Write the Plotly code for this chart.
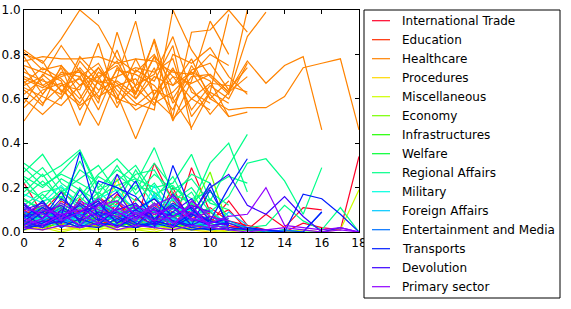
import plotly.graph_objects as go

categories = ["International Trade", "Education", "Healthcare", "Procedures",
              "Miscellaneous", "Economy", "Infrastructures", "Welfare",
              "Regional Affairs", "Military", "Foreign Affairs",
              "Entertainment and Media", "Transports", "Devolution", "Primary sector"]

colors = ["#ff0029", "#ff2d00", "#ff8300", "#ffd900", "#cfff00", "#79ff00",
          "#22ff00", "#00ff33", "#00ff89", "#00ffdf", "#00c9ff", "#0072ff",
          "#001cff", "#3b00ff", "#9100ff"]

x_ticks = [0, 2, 4, 6, 8, 10, 12, 14, 16, 18]
y_ticks = [0.0, 0.2, 0.4, 0.6, 0.8, 1.0]

international_trade = [
    [0.22, 0.08, 0.12, 0.05, 0.10, 0.06, 0.04, 0.31, 0.14, 0.06, 0.02, 0.05, 0.03],
    [0.05, 0.10, 0.03, 0.08, 0.12, 0.04, 0.09, 0.06, 0.02, 0.29, 0.09, 0.03, 0.01, 0.08, 0.02, 0.11, 0.10],
    [0.10, 0.04, 0.14, 0.09, 0.02, 0.13, 0.07, 0.03, 0.18, 0.05, 0.04, 0.14, 0.03],
    [0.03, 0.07, 0.05, 0.13, 0.06, 0.02, 0.15, 0.10, 0.07, 0.12, 0.01],
    [0.08, 0.12, 0.09, 0.04, 0.16, 0.09, 0.11, 0.05, 0.20, 0.03, 0.06, 0.02, 0.03, 0.01, 0.00, 0.04, 0.02, 0.01, 0.34],
    [0.13, 0.02, 0.06, 0.11, 0.08, 0.14, 0.03, 0.08, 0.04, 0.10, 0.03],
    [0.01, 0.05, 0.11, 0.02, 0.05, 0.03, 0.06, 0.13, 0.09, 0.02, 0.07, 0.04],
    [0.15, 0.09, 0.18, 0.12, 0.07, 0.17, 0.10, 0.15, 0.06, 0.13, 0.08],
    [0.07, 0.14, 0.04, 0.10, 0.14, 0.06, 0.12, 0.04, 0.15, 0.07, 0.11, 0.05],
    [0.04, 0.06, 0.10, 0.07, 0.11, 0.08, 0.05, 0.09, 0.12, 0.04, 0.02],
    [0.11, 0.07, 0.02, 0.15, 0.03, 0.11, 0.08, 0.12, 0.05, 0.08, 0.06, 0.10, 0.01],
]
education = [
    [0.06, 0.04, 0.08, 0.03, 0.07, 0.05, 0.02, 0.06, 0.04, 0.03, 0.01],
    [0.02, 0.09, 0.03, 0.06, 0.02, 0.08, 0.04, 0.02, 0.07, 0.01],
    [0.04, 0.01, 0.05, 0.10, 0.04, 0.02, 0.06, 0.09, 0.03, 0.05, 0.02, 0.01],
    [0.08, 0.11, 0.06, 0.12, 0.09, 0.07, 0.10, 0.04, 0.08, 0.06, 0.09],
]
healthcare = [
    [0.82, 0.76, 0.87, 1.00, 0.93, 0.78, 0.72, 0.80, 0.66, 0.72, 0.60, 0.55, 0.56, 0.56, 0.61, 0.74, 0.76, 0.78, 0.46],
    [0.70, 0.66, 0.62, 0.79, 0.70, 0.75, 0.63, 0.79, 0.58, 0.70, 0.71, 0.63, 0.77, 0.67, 0.75, 0.79, 0.46],
    [0.50, 0.62, 0.74, 0.55, 0.68, 0.66, 0.58, 0.55, 1.00, 0.82, 0.70, 0.62, 0.88, 0.99],
    [0.81, 0.73, 0.75, 0.62, 0.48, 0.70, 0.95, 0.60, 0.52, 0.90, 0.91, 1.00, 0.90],
    [0.60, 0.53, 0.61, 0.70, 0.76, 0.62, 0.42, 0.62, 0.73, 0.65, 0.53, 0.63, 1.00],
    [0.77, 0.79, 0.78, 0.78, 0.79, 0.76, 0.78, 0.77, 0.72, 0.71, 0.80, 0.75],
    [0.75, 0.72, 0.68, 0.48, 0.69, 0.77, 0.62, 0.87, 0.60, 0.47, 0.63, 0.58],
    [0.68, 0.58, 0.66, 0.69, 0.60, 0.73, 0.71, 0.66, 0.55, 0.75, 0.62, 0.52, 0.54],
    [0.66, 0.70, 0.84, 0.72, 0.58, 0.90, 0.65, 0.57, 0.80, 0.76, 0.83, 0.70, 0.62],
    [0.72, 0.68, 0.66, 0.64, 0.85, 0.58, 0.66, 0.86, 0.51, 0.60, 0.55],
    [0.79, 0.66, 0.71, 0.72, 0.67, 0.70, 0.74, 0.72, 0.78, 0.52, 0.63, 0.98],
    [0.65, 0.61, 0.57, 0.66, 0.74, 0.64, 0.55, 0.60, 0.70, 0.60, 0.67, 0.66, 0.63],
    [0.58, 0.71, 0.64, 0.57, 0.63, 0.82, 0.60, 0.74, 0.50, 0.68, 0.95, 0.80],
    [0.69, 0.65, 0.70, 0.73, 0.61, 0.66, 0.69, 0.58, 0.63, 0.72, 0.68, 0.52],
    [0.64, 0.57, 0.75, 0.66, 0.70, 0.56, 0.73, 0.68, 0.84, 0.46],
    [0.80, 0.77, 0.63, 0.74, 0.64, 0.68, 0.62, 0.79, 0.70, 0.67, 0.71, 0.63, 0.70],
    [0.67, 0.74, 0.69, 0.60, 0.74, 0.60, 0.57, 0.64, 0.60, 0.73, 0.76, 0.64, 0.74],
    [0.74, 0.62, 0.72, 0.70, 0.55, 0.74, 0.66, 0.71, 0.88, 0.63, 0.58],
    [0.62, 0.69, 0.60, 0.77, 0.67, 0.60, 0.78, 0.62, 0.74, 0.55, 0.66, 0.60, 0.76],
    [0.56, 0.64, 0.67, 0.58, 0.72, 0.67, 0.60, 0.70, 0.66, 0.78, 0.60, 0.68],
]
procedures = [
    [0.03, 0.02, 0.04, 0.01, 0.03, 0.24, 0.02, 0.01, 0.03, 0.02, 0.01],
    [0.01, 0.03, 0.01, 0.02, 0.05, 0.01, 0.02, 0.04, 0.01, 0.01, 0.00, 0.01, 0.02],
]
miscellaneous = [
    [0.02, 0.01, 0.03, 0.01, 0.02, 0.01, 0.01, 0.02, 0.01, 0.02, 0.01, 0.00, 0.01, 0.00, 0.00, 0.01, 0.00, 0.01, 0.19],
    [0.01, 0.02, 0.00, 0.02, 0.01, 0.03, 0.01, 0.00, 0.02, 0.01, 0.01, 0.02],
]
economy = [
    [0.04, 0.06, 0.03, 0.05, 0.02, 0.04, 0.03, 0.05, 0.08, 0.10, 0.27, 0.02],
    [0.02, 0.03, 0.05, 0.02, 0.04, 0.02, 0.05, 0.03, 0.02, 0.04, 0.01],
]
infrastructures = [
    [0.03, 0.07, 0.05, 0.02, 0.06, 0.03, 0.04, 0.02, 0.05, 0.03, 0.02, 0.01],
    [0.05, 0.02, 0.04, 0.06, 0.03, 0.05, 0.02, 0.04, 0.03, 0.01],
]
welfare = [
    [0.07, 0.10, 0.06, 0.09, 0.04, 0.08, 0.05, 0.11, 0.06, 0.04, 0.03, 0.02],
    [0.09, 0.05, 0.11, 0.04, 0.07, 0.10, 0.06, 0.03, 0.08, 0.05, 0.02],
    [0.04, 0.08, 0.07, 0.03, 0.09, 0.04, 0.08, 0.06, 0.04, 0.02, 0.04, 0.01, 0.01, 0.00, 0.01, 0.00, 0.00, 0.02],
]
regional_affairs = [
    [0.31, 0.25, 0.30, 0.37, 0.20, 0.28, 0.22, 0.38, 0.17, 0.13, 0.20, 0.25, 0.22],
    [0.27, 0.35, 0.22, 0.16, 0.26, 0.33, 0.24, 0.20, 0.22, 0.35, 0.14, 0.30, 0.44],
    [0.25, 0.20, 0.27, 0.36, 0.19, 0.23, 0.30, 0.17, 0.21, 0.12, 0.31, 0.40, 0.18],
    [0.22, 0.29, 0.18, 0.24, 0.30, 0.18, 0.26, 0.28, 0.14, 0.20, 0.09, 0.16, 0.31, 0.33, 0.23, 0.08, 0.29],
    [0.20, 0.15, 0.24, 0.19, 0.14, 0.26, 0.19, 0.31, 0.20, 0.15, 0.18, 0.12],
    [0.16, 0.23, 0.15, 0.28, 0.22, 0.13, 0.28, 0.15, 0.25, 0.09, 0.15, 0.07],
    [0.12, 0.18, 0.20, 0.13, 0.25, 0.20, 0.14, 0.22, 0.11, 0.18, 0.05, 0.04, 0.02, 0.03, 0.12, 0.05, 0.01, 0.11, 0.00],
    [0.29, 0.21, 0.26, 0.22, 0.17, 0.30, 0.17, 0.26, 0.19, 0.24, 0.13, 0.10],
    [0.18, 0.26, 0.14, 0.32, 0.16, 0.21, 0.24, 0.12, 0.16, 0.26, 0.22],
    [0.14, 0.11, 0.19, 0.10, 0.18, 0.11, 0.21, 0.18, 0.10, 0.07, 0.11],
    [0.10, 0.17, 0.09, 0.16, 0.08, 0.16, 0.11, 0.09, 0.13, 0.05, 0.06],
    [0.08, 0.05, 0.12, 0.06, 0.11, 0.07, 0.13, 0.04, 0.09, 0.03],
    [0.24, 0.14, 0.16, 0.07, 0.13, 0.09, 0.05, 0.13, 0.06, 0.11, 0.04],
    [0.06, 0.12, 0.07, 0.20, 0.09, 0.14, 0.08, 0.16, 0.07, 0.13, 0.06],
    [0.15, 0.09, 0.13, 0.08, 0.16, 0.05, 0.09, 0.07, 0.11, 0.08, 0.09, 0.03],
]
military = [
    [0.17, 0.13, 0.21, 0.11, 0.15, 0.19, 0.09, 0.16, 0.12, 0.08, 0.10, 0.03],
    [0.06, 0.09, 0.04, 0.12, 0.07, 0.05, 0.10, 0.06, 0.15, 0.04, 0.05],
    [0.11, 0.06, 0.08, 0.05, 0.10, 0.12, 0.04, 0.21, 0.05, 0.06, 0.02],
    [0.03, 0.07, 0.10, 0.04, 0.08, 0.09, 0.06, 0.11, 0.08, 0.10, 0.04, 0.07],
]
foreign_affairs = [
    [0.05, 0.08, 0.04, 0.07, 0.12, 0.05, 0.09, 0.04, 0.06, 0.03, 0.05, 0.02],
    [0.09, 0.04, 0.07, 0.03, 0.06, 0.10, 0.04, 0.17, 0.03, 0.06, 0.02],
    [0.02, 0.06, 0.02, 0.09, 0.03, 0.04, 0.07, 0.02, 0.05, 0.04, 0.01, 0.09, 0.03],
]
entertainment_media = [
    [0.04, 0.02, 0.06, 0.03, 0.09, 0.05, 0.12, 0.03, 0.07, 0.02, 0.04],
    [0.07, 0.11, 0.05, 0.08, 0.04, 0.07, 0.03, 0.09, 0.04, 0.08, 0.03, 0.02],
    [0.02, 0.05, 0.09, 0.02, 0.06, 0.03, 0.05, 0.02, 0.11, 0.03, 0.02, 0.05, 0.02, 0.00, 0.01, 0.00, 0.09],
    [0.09, 0.06, 0.11, 0.07, 0.13, 0.08, 0.10, 0.05, 0.09, 0.05, 0.07, 0.03],
]
transports = [
    [0.08, 0.03, 0.07, 0.36, 0.05, 0.09, 0.04, 0.02, 0.30, 0.10, 0.04, 0.06],
    [0.12, 0.06, 0.18, 0.04, 0.23, 0.20, 0.16, 0.06, 0.12, 0.03, 0.19, 0.03],
    [0.03, 0.09, 0.02, 0.06, 0.03, 0.11, 0.23, 0.05, 0.03, 0.08, 0.05, 0.20, 0.33],
    [0.06, 0.14, 0.04, 0.19, 0.08, 0.02, 0.07, 0.10, 0.05, 0.02, 0.01, 0.02, 0.01, 0.01, 0.00, 0.17, 0.15, 0.08, 0.00],
    [0.01, 0.04, 0.08, 0.03, 0.02, 0.06, 0.02, 0.04, 0.02, 0.07, 0.22, 0.01, 0.02, 0.01, 0.00, 0.00, 0.09],
    [0.05, 0.11, 0.06, 0.09, 0.14, 0.04, 0.10, 0.15, 0.07, 0.11, 0.04],
    [0.02, 0.03, 0.05, 0.02, 0.04, 0.03, 0.02, 0.05, 0.03, 0.01, 0.02, 0.01],
]
devolution = [
    [0.10, 0.13, 0.07, 0.12, 0.05, 0.26, 0.10, 0.06, 0.13, 0.08, 0.20, 0.26, 0.12, 0.08, 0.16, 0.07, 0.00, 0.02, 0.00],
    [0.05, 0.02, 0.10, 0.06, 0.13, 0.04, 0.08, 0.03, 0.09, 0.15, 0.05, 0.03],
    [0.07, 0.09, 0.12, 0.05, 0.09, 0.07, 0.03, 0.11, 0.05, 0.03, 0.07],
    [0.13, 0.06, 0.15, 0.09, 0.12, 0.18, 0.06, 0.10, 0.07, 0.12, 0.09],
    [0.02, 0.05, 0.04, 0.13, 0.07, 0.10, 0.13, 0.04, 0.17, 0.06, 0.03, 0.04, 0.01],
]
primary_sector = [
    [0.09, 0.12, 0.06, 0.14, 0.10, 0.07, 0.12, 0.08, 0.11, 0.06, 0.04, 0.07, 0.08, 0.20, 0.03, 0.02, 0.01, 0.02, 0.00],
    [0.03, 0.06, 0.13, 0.08, 0.04, 0.11, 0.06, 0.13, 0.04, 0.09, 0.03, 0.02],
    [0.06, 0.03, 0.08, 0.10, 0.07, 0.02, 0.09, 0.05, 0.07, 0.12, 0.02],
    [0.11, 0.08, 0.05, 0.09, 0.15, 0.09, 0.05, 0.12, 0.16, 0.05, 0.10],
    [0.04, 0.10, 0.08, 0.03, 0.12, 0.14, 0.08, 0.10, 0.02, 0.14, 0.07, 0.05],
    [0.02, 0.01, 0.03, 0.02, 0.04, 0.01, 0.03, 0.02, 0.01, 0.03, 0.02, 0.01, 0.00, 0.01, 0.02, 0.01, 0.00, 0.01, 0.00],
]

series = [international_trade, education, healthcare, procedures, miscellaneous,
          economy, infrastructures, welfare, regional_affairs, military,
          foreign_affairs, entertainment_media, transports, devolution, primary_sector]

fig = go.Figure()
for name, color, lines in zip(categories, colors, series):
    for vals in lines:
        fig.add_trace(go.Scatter(
            x=list(range(len(vals))), y=vals, mode="lines",
            line=dict(color=color, width=1.2), showlegend=False,
            hoverinfo="skip", name=name))

W, H = 571, 309
L, R, T, B = 24, 359, 10, 232          # plot-area edges in window pixels
pw, ph = R - L, B - T

def px(xp):
    return (xp - L) / pw

def py(yp):
    return (B - yp) / ph

shapes = [dict(type="rect", xref="paper", yref="paper",
               x0=px(364), x1=px(560), y0=py(298), y1=py(10),
               line=dict(color="black", width=1), fillcolor="white", layer="above")]
annotations = []
for i, (name, color) in enumerate(zip(categories, colors)):
    yc = 20.7 + 19 * i
    shapes.append(dict(type="line", xref="paper", yref="paper",
                       x0=px(372), x1=px(390), y0=py(yc), y1=py(yc),
                       line=dict(color=color, width=1.2)))
    annotations.append(dict(xref="paper", yref="paper", x=px(400), y=py(yc),
                            xanchor="left", yanchor="middle", text=name,
                            showarrow=False,
                            font=dict(family="DejaVu Sans", size=12, color="black")))

axis_common = dict(showline=True, linecolor="black", linewidth=1, mirror="ticks",
                   ticks="inside", ticklen=4, tickwidth=1, tickcolor="black",
                   showgrid=False, zeroline=False, automargin=False,
                   tickfont=dict(family="DejaVu Sans", size=12, color="black"))

fig.update_layout(
    template="none",
    width=W, height=H,
    margin=dict(l=L, r=W - R, t=T, b=H - B, pad=0),
    paper_bgcolor="white", plot_bgcolor="white",
    xaxis=dict(range=[0, 18], tickvals=x_ticks, ticktext=[str(v) for v in x_ticks], **axis_common),
    yaxis=dict(range=[0, 1], tickvals=y_ticks, ticktext=[f"{v:.1f}" for v in y_ticks], **axis_common),
    shapes=shapes, annotations=annotations, showlegend=False,
)

fig.write_html("out.html", config={"displayModeBar": False},
               post_script="document.body.style.margin='0';document.body.style.padding='0';")
